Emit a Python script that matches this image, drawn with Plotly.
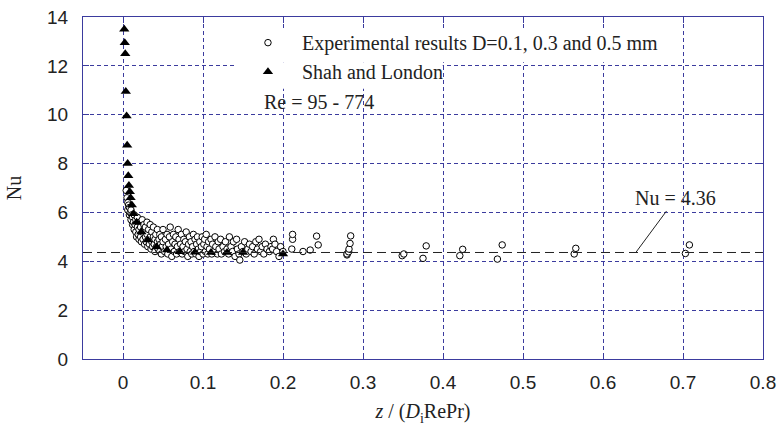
import plotly.graph_objects as go

# ---------------- data ----------------
exp_x = [0.004,0.005,0.006,0.006,0.007,0.008,0.008,0.009,0.010,0.010,0.011,0.012,0.012,
         0.013,0.014,0.014,0.015,0.016,0.016,0.017,0.018,0.018,0.019,0.020,0.020,0.021,0.022,0.022,
         0.023,0.024,0.024,0.025,0.026,0.026,0.027,0.028,0.028,0.029,0.030,0.030,
         0.031,0.032,0.032,0.033,0.034,0.034,0.035,0.036,0.036,0.037,0.038,0.038,0.039,0.040,0.040,
         0.041,0.042,0.043,0.043,0.044,0.045,0.046,0.046,0.047,0.048,0.048,0.049,0.050,0.050,
         0.052,0.053,0.054,0.055,0.056,0.057,0.058,0.059,0.060,0.061,0.062,0.063,0.064,0.065,0.066,
         0.067,0.068,0.069,0.070,0.071,0.072,0.073,0.074,0.075,0.076,0.077,0.078,0.079,0.080,
         0.081,0.082,0.083,0.084,0.085,0.086,0.087,0.088,0.089,0.090,0.091,0.092,0.093,0.094,0.095,
         0.096,0.097,0.098,0.099,0.100,0.101,0.102,0.103,0.104,0.105,0.106,0.107,0.108,0.110,0.111,
         0.112,0.114,0.115,0.116,0.118,0.119,0.120,
         0.122,0.123,0.125,0.127,0.128,0.130,0.132,0.133,0.135,0.137,0.138,0.140,0.142,0.143,0.145,
         0.146,0.148,0.150,0.152,0.154,0.156,0.158,0.160,0.162,0.164,0.166,0.168,0.170,0.172,0.174,
         0.176,0.178,0.180,0.183,0.185,0.187,0.188,0.190,0.192,0.195,0.197,0.200,
         0.211,0.212,0.212,0.225,0.234,0.242,0.244,0.280,0.280,0.282,0.2825,0.2838,0.2846,
         0.349,0.351,0.375,0.379,0.421,0.4246,0.468,0.474,0.564,0.566,0.703,0.708]
exp_y = [6.9,6.6,6.4,6.1,6.3,5.9,6.2,6.0,5.7,6.1,5.9,5.5,5.8,
         5.6,5.3,5.9,5.5,5.2,5.7,5.0,5.4,5.8,5.1,4.9,5.3,5.6,5.0,5.4,
         4.8,5.2,5.7,4.9,5.3,5.5,4.7,5.0,5.4,4.8,5.1,5.6,
         4.6,4.9,5.3,4.7,5.0,5.5,4.5,4.8,5.2,4.6,5.0,5.4,4.7,4.4,4.9,
         5.1,4.6,4.8,5.3,4.5,4.9,4.4,5.1,4.7,4.3,5.0,4.6,4.8,5.3,
         4.4,4.9,4.6,5.1,4.3,4.7,5.0,5.4,4.5,4.2,4.8,5.1,4.4,4.7,5.0,
         4.3,4.6,5.3,4.9,4.4,4.7,5.1,4.3,4.6,4.9,4.4,4.8,5.2,4.5,
         4.2,4.7,5.0,4.4,4.8,4.3,4.6,5.1,4.4,4.9,4.3,4.7,5.0,4.5,4.2,
         4.8,4.4,4.6,5.0,4.3,4.7,4.9,4.4,5.1,4.6,4.3,4.8,4.5,4.9,4.3,
         4.7,4.4,5.0,4.6,4.3,4.8,4.5,
         4.9,4.3,4.6,4.4,4.8,4.5,4.3,5.0,4.6,4.4,4.8,4.2,4.9,4.5,4.3,
         4.05,4.6,4.4,4.8,4.3,4.5,4.7,4.4,4.6,4.3,4.8,4.5,4.9,4.4,4.6,
         4.3,4.7,4.5,4.4,4.6,4.5,4.9,4.7,4.4,4.2,4.6,4.4,
         4.5,4.9,5.1,4.4,4.46,5.03,4.67,4.26,4.3,4.39,4.5,4.73,5.04,
         4.23,4.3,4.12,4.63,4.23,4.49,4.09,4.67,4.3,4.53,4.32,4.67]

sl_x = [0.0016,0.0022,0.0028,0.0035,0.0045,0.0052,0.0058,0.0066,0.0074,0.0085,0.0095,0.011,
        0.013,0.017,0.023,0.031,0.042,0.055,0.071,0.09,0.11,0.13,0.15,0.2]
sl_y = [13.5,12.95,12.5,10.95,9.95,8.75,8.0,7.5,7.1,6.85,6.6,6.3,
        5.95,5.6,5.2,4.87,4.6,4.46,4.39,4.37,4.36,4.36,4.36,4.3]

nu_fd = 4.36
x_ticks = [0, 0.1, 0.2, 0.3, 0.4, 0.5, 0.6, 0.7, 0.8]
y_ticks = [0, 2, 4, 6, 8, 10, 12, 14]

BLUE = "#3b3b9e"
INK = "#222222"
SERIF = "Liberation Serif"
SANS = "Liberation Sans"

fig = go.Figure()
fig.add_trace(go.Scatter(
    x=exp_x, y=exp_y, mode="markers",
    name="Experimental results D=0.1, 0.3 and 0.5 mm",
    marker=dict(symbol="circle", size=6.5, color="white", line=dict(color="black", width=1)),
))
fig.add_trace(go.Scatter(
    x=sl_x, y=sl_y, mode="markers", name="Shah and London",
    marker=dict(symbol="triangle-up", size=9, color="black", line=dict(width=0)),
))

fig.add_hline(y=nu_fd, line=dict(color=INK, width=1, dash="9px,5px"), layer="above")

# white patches behind the legend rows (hide grid there, as in the reference)
fig.add_shape(type="rect", xref="paper", yref="paper", x0=0.238, x1=0.85, y0=0.868, y1=0.962,
              fillcolor="white", line=dict(width=0), layer="above")
fig.add_shape(type="rect", xref="paper", yref="paper", x0=0.224, x1=0.529, y0=0.79, y1=0.868,
              fillcolor="white", line=dict(width=0), layer="above")

fig.add_annotation(x=0.641, y=nu_fd, xref="x", yref="y", text="Nu = 4.36",
                   showarrow=True, arrowhead=0, arrowwidth=1, arrowcolor=INK,
                   ax=40, ay=-54, standoff=0,
                   font=dict(family=SERIF, size=20, color=INK))
fig.add_annotation(x=0.263, y=0.751, xref="paper", yref="paper", text="Re = 95 - 774",
                   showarrow=False, xanchor="left", yanchor="middle",
                   font=dict(family=SERIF, size=20, color=INK))

axis_common = dict(
    showline=True, linecolor=BLUE, linewidth=1.3, mirror="ticks",
    showgrid=True, gridcolor=BLUE, gridwidth=1, griddash="4px,3px",
    ticks="inside", ticklen=6, tickcolor=BLUE, tickwidth=1,
    zeroline=False, automargin=False,
    tickfont=dict(family=SANS, size=19, color=INK),
)

fig.update_layout(
    width=780, height=432,
    margin=dict(l=83, r=17, t=17, b=73),
    paper_bgcolor="white", plot_bgcolor="white",
    showlegend=True,
    legend=dict(x=0.222, y=0.982, xanchor="left", yanchor="top",
                bgcolor="rgba(0,0,0,0)", borderwidth=0, itemwidth=58,
                tracegroupgap=0,
                font=dict(family=SERIF, size=20, color=INK)),
    xaxis=dict(range=[-0.05, 0.8], tickvals=x_ticks, ticktext=[str(v) for v in x_ticks],
               ticklabelstandoff=6,
               title=dict(text="<i>z</i> / (<i>D</i><sub>i</sub>RePr)",
                          font=dict(family=SERIF, size=20, color=INK), standoff=12),
               **axis_common),
    yaxis=dict(range=[0, 14], tickvals=y_ticks, ticklabelstandoff=10,
               title=dict(text="Nu", font=dict(family=SERIF, size=20, color=INK), standoff=19),
               **axis_common),
)

fig.write_html("out.html")
